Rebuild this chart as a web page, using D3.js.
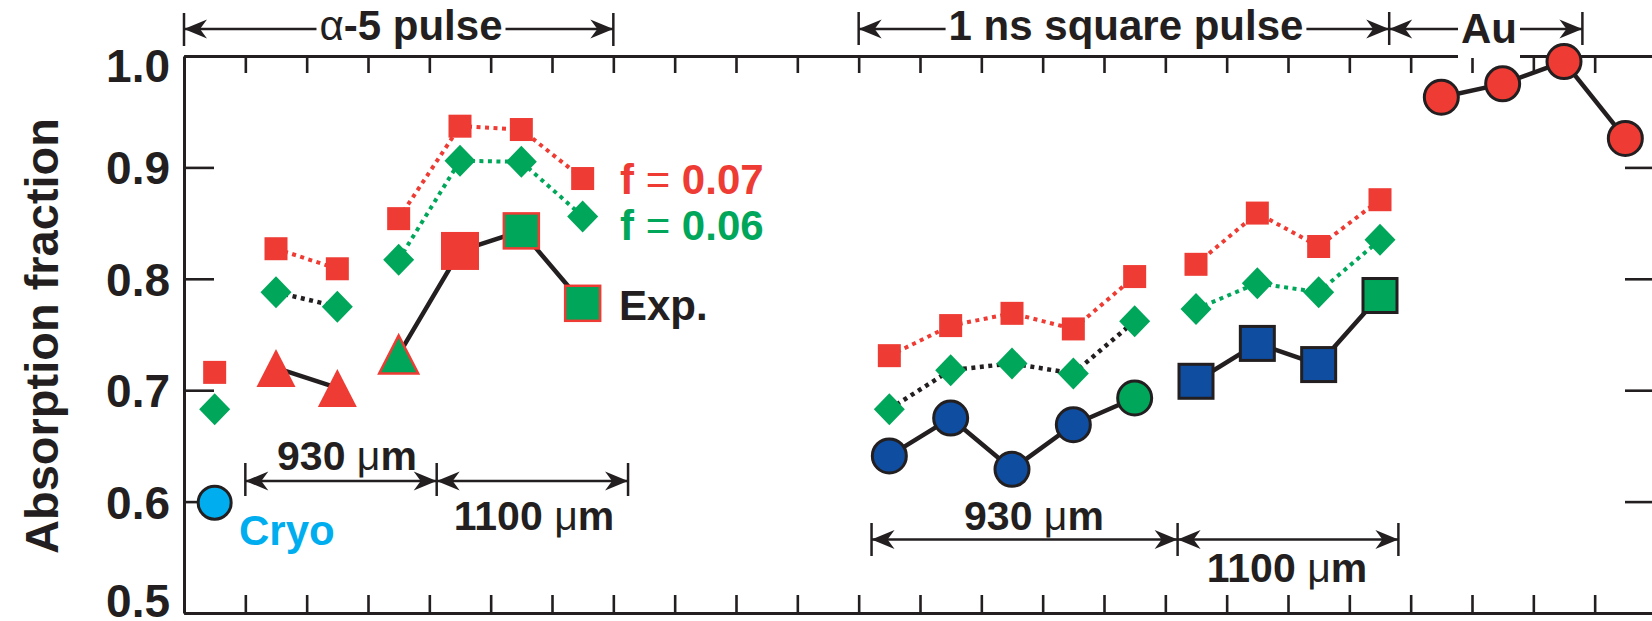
<!DOCTYPE html>
<html><head><meta charset="utf-8">
<script src="https://cdn.jsdelivr.net/npm/d3@7"></script>
<style>
body{margin:0;background:#fff;}
svg{display:block;}
text{font-family:"Liberation Sans",Arial,Helvetica,sans-serif;font-weight:bold;}
</style></head><body>
<svg id="c" width="1652" height="621"></svg>
<script>
// ---------------- data ----------------
const yTickValues = [0.5, 0.6, 0.7, 0.8, 0.9, 1.0];
const yTickLabels = ["0.5", "0.6", "0.7", "0.8", "0.9", "1.0"];
const xTickValues = d3.range(1, 24);

// alpha-5 pulse shots
const alphaX   = [0.5, 1.5, 2.5, 3.5, 4.5, 5.5, 6.5];
const alphaF07 = [0.716, 0.827, 0.809, 0.854, 0.937, 0.934, 0.890];
const alphaF06 = [0.683, 0.788, 0.775, 0.817, 0.906, 0.905, 0.856];
const alphaExp = [0.599, 0.720, 0.702, 0.732, 0.825, 0.843, 0.778];
const alphaExpMarker = ["cirC", "triR", "triR", "triGR", "sqBigR", "sqGR", "sqGR"];

// 1 ns square pulse shots
const nsX   = [11.5, 12.5, 13.5, 14.5, 15.5, 16.5, 17.5, 18.5, 19.5];
const nsF07 = [0.731, 0.758, 0.769, 0.755, 0.802, 0.813, 0.859, 0.829, 0.871];
const nsF06 = [0.683, 0.718, 0.724, 0.715, 0.762, 0.773, 0.796, 0.788, 0.835];
const nsExp = [0.641, 0.675, 0.629, 0.669, 0.693, 0.708, 0.742, 0.723, 0.785];
const nsExpMarker = ["cirB", "cirB", "cirB", "cirB", "cirG", "sqB", "sqB", "sqB", "sqG"];

// Au shots
const auX   = [20.5, 21.5, 22.5, 23.5];
const auExp = [0.963, 0.975, 0.995, 0.926];

// connected index ranges
const alphaF07Segs = [[1, 2], [3, 6]];
const alphaF06BlackSegs = [[1, 2]];
const alphaF06GreenSegs = [[3, 6]];
const alphaExpSegs = [[1, 2], [3, 6]];
const nsF07Segs = [[0, 4], [5, 8]];
const nsF06BlackSegs = [[0, 4]];
const nsF06GreenSegs = [[5, 8]];
const nsExpSegs = [[0, 4], [5, 8]];
const auExpSegs = [[0, 3]];

// ---------------- drawing ----------------
const RED = "#EE3B33", GREEN = "#00A65A", BLUE = "#0E4DA0", CYAN = "#00AEEF", BLK = "#231F20";
const svg = d3.select("#c");
const x = d3.scaleLinear().domain([0, 24]).range([184, 1656]);
const y = d3.scaleLinear().domain([0.5, 1.0]).range([613, 56]);

// axes
const gL = svg.append("g").attr("transform", `translate(${x(0)},0)`)
  .call(d3.axisLeft(y).tickValues(yTickValues).tickSize(-30).tickSizeOuter(0).tickPadding(14)
    .tickFormat((d, i) => yTickLabels[i]));
gL.selectAll("text").attr("font-size", 46).attr("fill", BLK)
  .attr("dy", (d) => d === 1.0 ? "0.55em" : (d === 0.5 ? "0.08em" : "0.36em"))
  .attr("font-family", '"Liberation Sans",Arial,sans-serif').attr("font-weight", "bold");
const gR = svg.append("g").attr("transform", `translate(${x(24)},0)`)
  .call(d3.axisRight(y).tickValues([0.6, 0.7, 0.8, 0.9]).tickSize(-31).tickSizeOuter(0).tickFormat(""));
const gB = svg.append("g").attr("transform", `translate(0,${y(0.5)})`)
  .call(d3.axisBottom(x).tickValues(xTickValues).tickSize(-18).tickSizeOuter(0).tickFormat(""));
const gT = svg.append("g").attr("transform", `translate(0,${y(1.0)})`)
  .call(d3.axisTop(x).tickValues(xTickValues).tickSize(-17).tickSizeOuter(0).tickFormat(""));
[gL, gR, gB, gT].forEach(g => {
  g.select(".domain").attr("stroke", BLK).attr("stroke-width", 3);
  g.selectAll(".tick line").attr("stroke", BLK).attr("stroke-width", 2.6);
});

const plot = svg.append("g");
const line = d3.line().x(d => x(d[0])).y(d => y(d[1]));

function drawSegs(xs, vs, segs, color, dashed, width) {
  segs.forEach(([a, b]) => {
    const pts = d3.range(a, b + 1).map(i => [xs[i], vs[i]]);
    plot.append("path").attr("d", line(pts)).attr("fill", "none")
      .attr("stroke", color).attr("stroke-width", width)
      .attr("stroke-dasharray", dashed ? "4,4.5" : null)
      .attr("stroke-linejoin", "round");
  });
}

drawSegs(alphaX, alphaF07, alphaF07Segs, RED, true, 4);
drawSegs(alphaX, alphaF06, alphaF06BlackSegs, BLK, true, 4.5);
drawSegs(alphaX, alphaF06, alphaF06GreenSegs, GREEN, true, 4);
drawSegs(alphaX, alphaExp, alphaExpSegs, BLK, false, 4.5);
drawSegs(nsX, nsF07, nsF07Segs, RED, true, 4);
drawSegs(nsX, nsF06, nsF06BlackSegs, BLK, true, 4.5);
drawSegs(nsX, nsF06, nsF06GreenSegs, GREEN, true, 4);
drawSegs(nsX, nsExp, nsExpSegs, BLK, false, 4.5);
drawSegs(auX, auExp, auExpSegs, BLK, false, 4.5);

function marker(type, xv, v) {
  const cx = x(xv), cy = y(v);
  const sq = (s, fill, stroke, sw) => plot.append("rect").attr("x", cx - s / 2).attr("y", cy - s / 2)
    .attr("width", s).attr("height", s).attr("fill", fill)
    .attr("stroke", stroke || "none").attr("stroke-width", sw || 0);
  const cir = (r, fill) => plot.append("circle").attr("cx", cx).attr("cy", cy).attr("r", r)
    .attr("fill", fill).attr("stroke", BLK).attr("stroke-width", 3);
  const tri = (fill, stroke) => plot.append("path")
    .attr("d", `M${cx},${cy - 19}L${cx + 19.5},${cy + 19}L${cx - 19.5},${cy + 19}Z`)
    .attr("fill", fill).attr("stroke", stroke || "none").attr("stroke-width", stroke ? 2.5 : 0)
    .attr("stroke-linejoin", "miter");
  switch (type) {
    case "sqS": sq(23, RED); break;
    case "dia": plot.append("path").attr("d", `M${cx},${cy - 16}L${cx + 15.5},${cy}L${cx},${cy + 16}L${cx - 15.5},${cy}Z`).attr("fill", GREEN); break;
    case "sqBigR": sq(38, RED); break;
    case "sqGR": sq(35, GREEN, RED, 2.5); break;
    case "triR": tri(RED); break;
    case "triGR": tri(GREEN, RED); break;
    case "cirB": cir(17, BLUE); break;
    case "cirG": cir(17, GREEN); break;
    case "cirR": cir(17, RED); break;
    case "cirC": cir(16.5, CYAN); break;
    case "sqB": sq(34, BLUE, BLK, 3); break;
    case "sqG": sq(34, GREEN, BLK, 3); break;
  }
}

alphaX.forEach((xv, i) => marker("sqS", xv, alphaF07[i]));
nsX.forEach((xv, i) => marker("sqS", xv, nsF07[i]));
alphaX.forEach((xv, i) => marker("dia", xv, alphaF06[i]));
nsX.forEach((xv, i) => marker("dia", xv, nsF06[i]));
alphaX.forEach((xv, i) => marker(alphaExpMarker[i], xv, alphaExp[i]));
nsX.forEach((xv, i) => marker(nsExpMarker[i], xv, nsExp[i]));
auX.forEach((xv, i) => marker("cirR", xv, auExp[i]));

// ---------------- annotations ----------------
const ann = svg.append("g");
function arrowHead(tx, ty, dir) { // dir: -1 points left, +1 points right
  const L = 23, W = 9.5, n = 7;
  ann.append("path")
    .attr("d", `M${tx},${ty}L${tx - dir * L},${ty - W}L${tx - dir * (L - n)},${ty}L${tx - dir * L},${ty + W}Z`)
    .attr("fill", BLK);
}
function dimension(bars, ly, barTop, barBot) {
  ann.append("line").attr("x1", bars[0]).attr("x2", bars[bars.length - 1]).attr("y1", ly).attr("y2", ly)
    .attr("stroke", BLK).attr("stroke-width", 2.5);
  bars.forEach(bx => ann.append("line").attr("x1", bx).attr("x2", bx).attr("y1", barTop).attr("y2", barBot)
    .attr("stroke", BLK).attr("stroke-width", 2.5));
  for (let i = 0; i < bars.length - 1; i++) {
    arrowHead(bars[i], ly, -1);
    arrowHead(bars[i + 1], ly, 1);
  }
}
function label(tx, ty, parts, size, color, anchor, bg, bgBottom) {
  const t = ann.append("text").attr("x", tx).attr("y", ty).attr("font-size", size)
    .attr("fill", color).attr("text-anchor", anchor || "middle");
  parts.forEach(p => {
    const s = t.append("tspan").text(p[0]);
    if (p[1]) s.attr("font-weight", "normal");
  });
  if (bg) {
    const b = t.node().getBBox();
    const bottom = bgBottom != null ? bgBottom : b.y + b.height;
    ann.insert("rect", () => t.node()).attr("x", b.x - 3).attr("y", b.y)
      .attr("width", b.width + 6).attr("height", bottom - b.y).attr("fill", "#fff");
  }
  return t;
}

// top spans
dimension([x(0), x(7)], 29, 13, 46);
dimension([x(11), x(19.65), x(22.8)], 29, 12, 45);
label(411, 40, [["α", true], ["-5 pulse"]], 42, BLK, "middle", true);
label(1126, 40, [["1 ns square pulse"]], 42, BLK, "middle", true);
label(1489, 43, [["Au"]], 42, BLK, "middle", true, 58);

// bottom-left spans
dimension([x(1), x(4.12), x(7.24)], 481, 463, 496);
label(347, 470, [["930 "], ["μ", true], ["m"]], 41, BLK, "middle");
label(534, 530, [["1100 "], ["μ", true], ["m"]], 41, BLK, "middle");

// bottom-right spans
dimension([x(11.21), x(16.2), x(19.8)], 539.5, 523, 556);
label(1034, 530, [["930 "], ["μ", true], ["m"]], 41, BLK, "middle");
label(1287, 582, [["1100 "], ["μ", true], ["m"]], 41, BLK, "middle");

// legend-like labels
label(620, 194, [["f "], ["=", true], [" 0.07"]], 42, RED, "start");
label(620, 240, [["f "], ["=", true], [" 0.06"]], 42, GREEN, "start");
label(619, 320, [["Exp."]], 42, BLK, "start");
label(239, 545, [["Cryo"]], 42, CYAN, "start");

// y axis title
svg.append("text").attr("transform", "translate(58,336) rotate(-90)")
  .attr("text-anchor", "middle").attr("font-size", 47).attr("fill", BLK).text("Absorption fraction");
</script>
</body></html>
